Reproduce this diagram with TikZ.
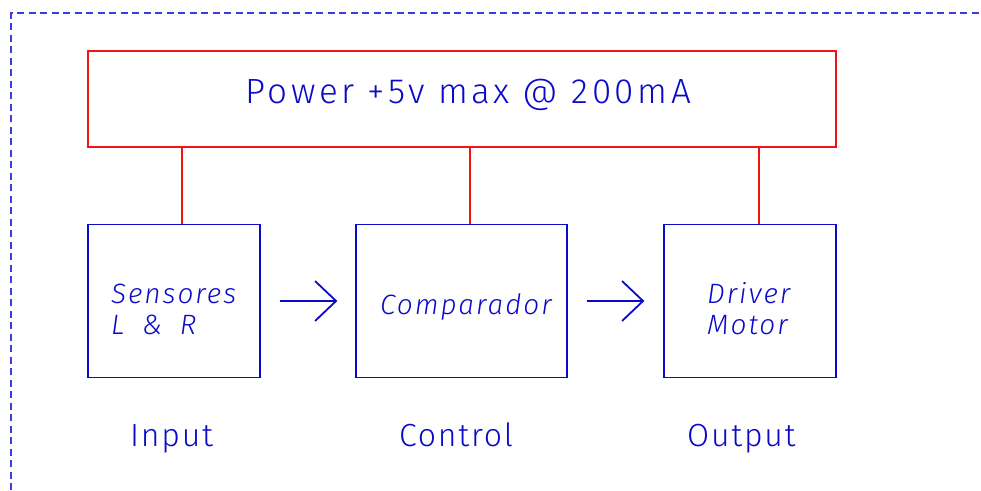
\documentclass[tikz,border=0pt]{standalone}
\usepackage{fontspec}
\setmainfont{Fira Sans}[UprightFont={* Light}, ItalicFont={* Light Italic}, LetterSpace=7]
\newfontfamily\pwfont{Fira Sans}[UprightFont={* Light}, LetterSpace=10]
\newfontfamily\lbfont{Fira Sans}[UprightFont={* Light}, LetterSpace=5.5]
\usetikzlibrary{arrows.meta,calc}
\definecolor{kblue}{RGB}{10,10,200}
\definecolor{kred}{RGB}{240,20,20}
\definecolor{kframe}{RGB}{60,60,220}
\tikzset{
  block/.style={draw=kblue, line width=1.3pt, rectangle, inner sep=0pt},
  powerbox/.style={draw=kred, line width=1.8pt, rectangle, inner sep=0pt},
  feed/.style={draw=kred, line width=1.8pt},
  flow/.style={draw=kblue, line width=1.8pt, -{Straight Barb[length=21pt,width=40pt,line width=1.8pt]}},
  intext/.style={text=kblue, font=\fontsize{28}{31}\selectfont\itshape, inner sep=0pt, align=left},
  lbltext/.style={text=kblue, font=\fontsize{32}{36}\lbfont, inner sep=0pt},
  frame/.style={draw=kframe, line width=1.3pt, dash pattern=on 7pt off 4.5pt}
}
\begin{document}
\begin{tikzpicture}[x=1pt,y=-1pt]
\useasboundingbox (0,0) rectangle (981,490);
\coordinate (fa) at (11,490);
\coordinate (fb) at (11,13);
\coordinate (fc) at (981,13);
\draw[frame] (fa) -- (fb) -- (fc);

\node[powerbox, minimum width=748pt, minimum height=96pt] (pw) at (462,99) {};
\node[text=kblue, font=\fontsize{35}{40}\pwfont, inner sep=0pt, anchor=base west] (pwt) at (245,103) {Power +5v max @ 200mA};

\node[block, minimum width=172pt, minimum height=153pt] (sens) at (174,301) {};
\node[block, minimum width=211pt, minimum height=153pt] (comp) at (461.5,301) {};
\node[block, minimum width=172pt, minimum height=153pt] (drv) at (750,301) {};

\node[intext, anchor=base west] (senst) at (111,334) {Sensores\\L\hspace{8pt} \&\hspace{8pt} R};
\node[intext, anchor=base west] (compt) at (380,314) {Comparador};
\node[intext, anchor=base west] (drvt) at (707,334) {Driver\\Motor};

\coordinate (s1) at ($(sens.north west)+(95,0)$);
\coordinate (c1) at ($(comp.north west)+(115,0)$);
\coordinate (d1) at ($(drv.north west)+(96,0)$);
\draw[feed] (s1) -- (s1 |- pw.south);
\draw[feed] (c1) -- (c1 |- pw.south);
\draw[feed] (d1) -- (d1 |- pw.south);

\draw[flow, shorten <=19pt, shorten >=18pt] (sens.east) -- (comp.west);
\draw[flow, shorten <=19pt, shorten >=19pt] (comp.east) -- (drv.west);

\node[lbltext, anchor=base west] (lin) at (130,446) {Input};
\node[lbltext, anchor=base west] (lco) at (399,446) {Control};
\node[lbltext, anchor=base west] (lou) at (687,446) {Output};
\end{tikzpicture}
\end{document}
